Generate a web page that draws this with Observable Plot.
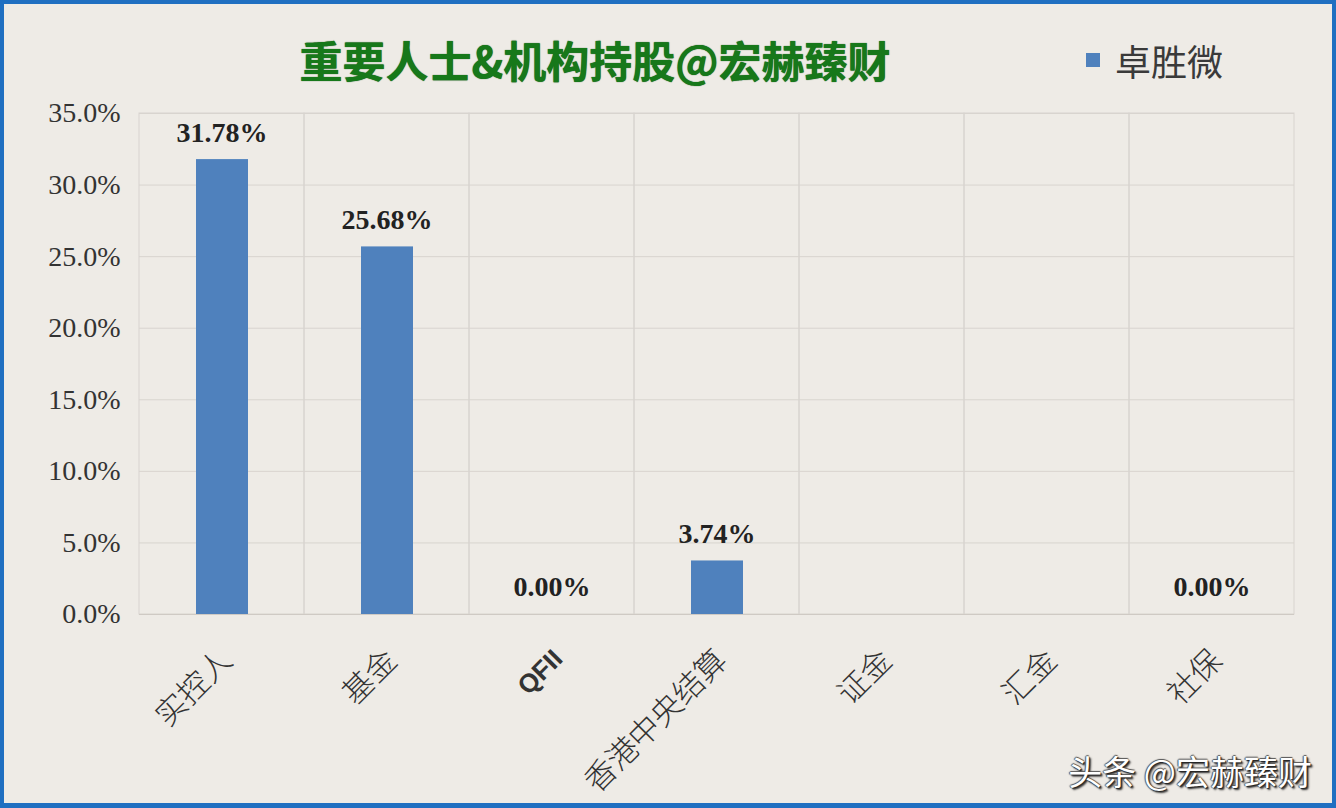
<!DOCTYPE html>
<html><head><meta charset="utf-8">
<script src="https://cdn.jsdelivr.net/npm/d3@7"></script>
<script src="https://cdn.jsdelivr.net/npm/@observablehq/plot@0.6"></script>
<style>
html,body{margin:0;padding:0;background:#eeebe6;}
#frame{position:relative;width:1336px;height:808px;box-sizing:border-box;border:4px solid #1f6fc1;border-bottom-width:5px;background:#eeebe6;overflow:hidden;}
#title{position:absolute;left:0;top:30px;width:1182px;text-align:center;font-family:"Noto Sans CJK SC",sans-serif;font-weight:700;font-size:43px;line-height:50px;color:#17781a;text-shadow:0 0 1px #0a4d0a;}
#legend{position:absolute;left:1082px;top:36px;height:40px;display:flex;align-items:center;font-family:"Noto Sans CJK SC",sans-serif;font-size:36px;color:#3a3a3a;}
#legend .sw{width:14px;height:14px;background:#4f81bd;margin-right:15px;}
#wm{position:absolute;right:20px;top:742px;font-family:"Noto Sans CJK SC",sans-serif;font-size:34px;color:#fff;text-shadow:1px 1px 1px #222,-1px 0 1px #555,0 -1px 1px #555,2px 2px 2px #333;}
#chart{position:absolute;left:0;top:0;}
</style></head>
<body>
<div id="frame">
  <div id="chart"></div>
  <div id="title">重要人士&amp;机构持股@宏赫臻财</div>
  <div id="legend"><div class="sw"></div><span>卓胜微</span></div>
  <div id="wm">头条 @宏赫臻财</div>
</div>
<script>
const categories = ["实控人", "基金", "QFII", "香港中央结算", "证金", "汇金", "社保"];
const values = [0.3178, 0.2568, 0.0, 0.0374, null, null, 0.0];
const yTicks = [0, 0.05, 0.10, 0.15, 0.20, 0.25, 0.30, 0.35];
const seriesName = "卓胜微";

const data = categories.map((c, i) => ({cat: c, v: values[i]}));
const labeled = data.filter(d => d.v != null);
const cjkCats = categories.filter(c => c !== "QFII");
const latinCats = categories.filter(c => c === "QFII");

const chart = Plot.plot({
  width: 1328,
  height: 799,
  marginLeft: 135,
  marginRight: 38,
  marginTop: 109,
  marginBottom: 189,
  style: {background: "transparent", fontFamily: "'Liberation Serif', serif", overflow: "visible"},
  x: {domain: categories, padding: 0, axis: null},
  y: {domain: [0, 0.35], axis: null},
  marks: [
    Plot.ruleY(yTicks, {stroke: "#d8d4cf", strokeWidth: 1}),
    Plot.barY(categories, {x: d => d, y1: 0, y2: 0.35, fill: "none", stroke: "#d8d4cf", strokeWidth: 1}),
    Plot.ruleY([0], {stroke: "#cfcac4", strokeWidth: 1}),
    Plot.barY(data.filter(d => d.v != null && d.v > 0), {x: "cat", y: "v", fill: "#4f81bd", insetLeft: 57, insetRight: 56}),
    Plot.text(labeled, {x: "cat", y: "v", text: d => (d.v * 100).toFixed(2) + "%", dy: -27, fontSize: 28, fontWeight: "bold", fill: "#222", fontFamily: "'Liberation Serif', serif"}),
    Plot.axisY({ticks: yTicks, tickSize: 0, tickPadding: 19, label: null, tickFormat: d => (d * 100).toFixed(1) + "%", fontSize: 28, fill: "#333"}),
    Plot.text(cjkCats, {x: d => d, frameAnchor: "bottom", text: d => d, rotate: -45, textAnchor: "end", lineAnchor: "bottom", dx: 12, dy: 48, fontSize: 31, fontWeight: 300, fill: "#333", fontFamily: "'Noto Sans CJK SC', sans-serif"}),
    Plot.text(latinCats, {x: d => d, frameAnchor: "bottom", text: d => d, rotate: -45, textAnchor: "end", lineAnchor: "bottom", dx: 12, dy: 46, fontSize: 26, fontWeight: "bold", fill: "#333", fontFamily: "'Liberation Sans', sans-serif"})
  ]
});
document.getElementById("chart").appendChild(chart);
</script>
</body></html>
